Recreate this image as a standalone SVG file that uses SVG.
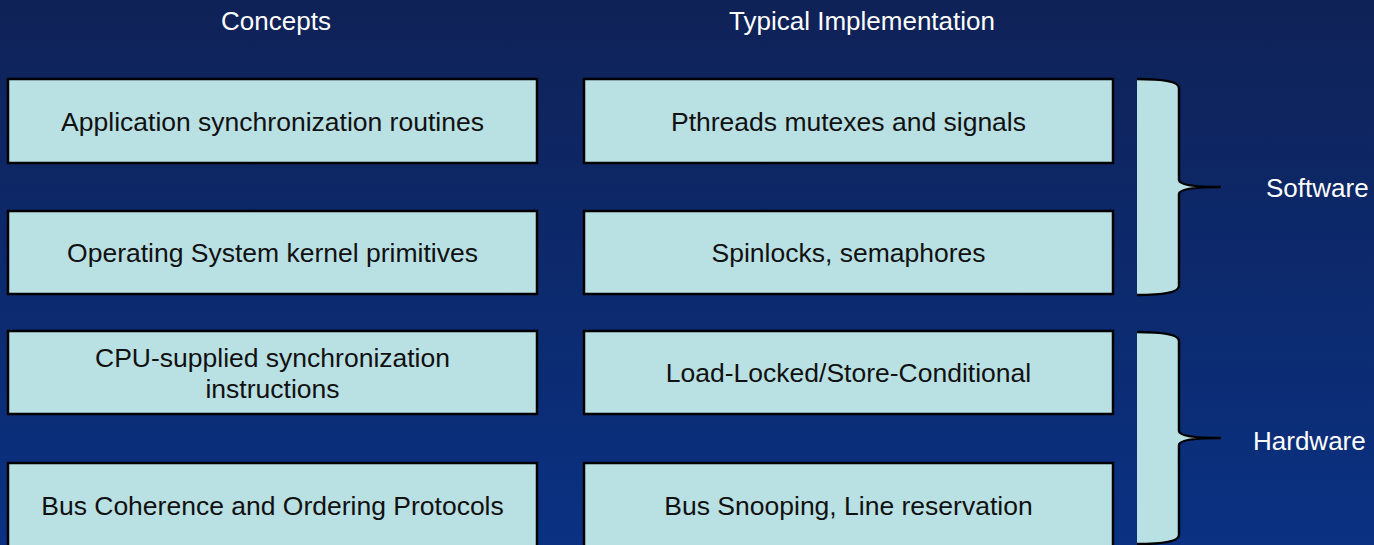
<svg xmlns="http://www.w3.org/2000/svg" width="1374" height="545" viewBox="0 0 1374 545">
  <defs>
    <linearGradient id="bg" x1="0" y1="0" x2="0" y2="1">
      <stop offset="0" stop-color="#0f2257"/>
      <stop offset="1" stop-color="#0a3182"/>
    </linearGradient>
    <style>
      .box { fill: #b9e0e3; stroke: #000; stroke-width: 2.5; }
      .lbl { font-family: "Liberation Sans", Arial, sans-serif; font-size: 26.5px; fill: #111; text-anchor: middle; }
      .hdr { font-family: "Liberation Sans", Arial, sans-serif; font-size: 26px; fill: #fff; text-anchor: middle; }
      .side { font-family: "Liberation Sans", Arial, sans-serif; font-size: 26px; fill: #fff; }
      .brace-fill { fill: #b9e0e3; stroke: none; }
      .brace-line { fill: none; stroke: #000; stroke-width: 2.5; }
    </style>
  </defs>

  <rect x="0" y="0" width="1374" height="545" fill="url(#bg)"/>

  <!-- column headings -->
  <text class="hdr" x="276" y="30">Concepts</text>
  <text class="hdr" x="862" y="30">Typical Implementation</text>

  <!-- concept column -->
  <g id="app-sync">
    <rect class="box" x="8" y="79" width="529" height="84"/>
    <text class="lbl" x="272.5" y="130.5">Application synchronization routines</text>
  </g>
  <g id="os-kernel">
    <rect class="box" x="8" y="211" width="529" height="83"/>
    <text class="lbl" x="272.5" y="262">Operating System kernel primitives</text>
  </g>
  <g id="cpu-sync">
    <rect class="box" x="8" y="331" width="529" height="83"/>
    <text class="lbl" x="272.5" y="367">CPU-supplied synchronization</text>
    <text class="lbl" x="272.5" y="398">instructions</text>
  </g>
  <g id="bus-coherence">
    <rect class="box" x="8" y="463" width="529" height="86"/>
    <text class="lbl" x="272.5" y="515">Bus Coherence and Ordering Protocols</text>
  </g>

  <!-- implementation column -->
  <g id="pthreads">
    <rect class="box" x="584" y="79" width="529" height="84"/>
    <text class="lbl" x="848.5" y="130.5">Pthreads mutexes and signals</text>
  </g>
  <g id="spinlocks">
    <rect class="box" x="584" y="211" width="529" height="83"/>
    <text class="lbl" x="848.5" y="262">Spinlocks, semaphores</text>
  </g>
  <g id="llsc">
    <rect class="box" x="584" y="331" width="529" height="83"/>
    <text class="lbl" x="848.5" y="382">Load-Locked/Store-Conditional</text>
  </g>
  <g id="bus-snooping">
    <rect class="box" x="584" y="463" width="529" height="86"/>
    <text class="lbl" x="848.5" y="515">Bus Snooping, Line reservation</text>
  </g>

  <!-- grouping braces -->
  <g id="software">
    <path class="brace-fill" d="M1137,79 Q1179,79 1179,88 L1179,180 Q1179,187 1221,187 Q1179,187 1179,194 L1179,286 Q1179,295 1137,295 Z"/>
    <path class="brace-line" d="M1137,79 Q1179,79 1179,88 L1179,180 Q1179,187 1221,187 Q1179,187 1179,194 L1179,286 Q1179,295 1137,295"/>
    <text class="side" x="1266" y="197">Software</text>
  </g>
  <g id="hardware">
    <path class="brace-fill" d="M1137,332 Q1179,332 1179,341 L1179,431 Q1179,438 1221,438 Q1179,438 1179,445 L1179,535 Q1179,544 1137,544 Z"/>
    <path class="brace-line" d="M1137,332 Q1179,332 1179,341 L1179,431 Q1179,438 1221,438 Q1179,438 1179,445 L1179,535 Q1179,544 1137,544"/>
    <text class="side" x="1253" y="450">Hardware</text>
  </g>
</svg>
